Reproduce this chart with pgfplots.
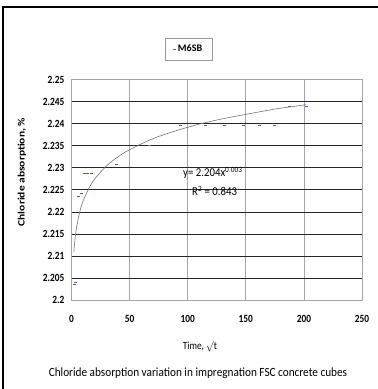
\documentclass[border=0pt]{standalone}
\usepackage{pgfplots}
\pgfplotsset{compat=1.18}
\usepackage{fontspec}
\setmainfont{Carlito}
\definecolor{mk}{RGB}{70,95,180}
\begin{document}
\begin{tikzpicture}[x=1pt,y=1pt]
\useasboundingbox (0,0) rectangle (378,389);
\draw[line width=1.3pt] (3,0) -- (3,382) -- (378,382);
\begin{axis}[
  at={(71.5pt,88.7pt)}, anchor=south west,
  scale only axis, width=290.5pt, height=220.8pt,
  xmin=0, xmax=250, ymin=2.2, ymax=2.25,
  xtick={0,50,100,150,200,250},
  ytick={2.2,2.205,2.21,2.215,2.22,2.225,2.23,2.235,2.24,2.245,2.25},
  yticklabels={2.2,2.205,2.21,2.215,2.22,2.225,2.23,2.235,2.24,2.245,2.25},
  xticklabels={0,50,100,150,200,250},
  major tick length=0pt,
  tick label style={font=\fontsize{11}{12}\selectfont\bfseries, xscale=0.85},
  /pgf/number format/assume math mode=true,
  yticklabel style={xshift=-5pt},
  xticklabel style={yshift=-11pt},
  axis line style={draw=gray!70, line width=0.8pt},
  xmajorgrids, ymajorgrids,
  x grid style={gray!70, line width=0.7pt},
  y grid style={black!85, line width=0.9pt},
  legend style={at={(0.403,1.138)}, anchor=center, draw=gray!80, line width=0.6pt,
    font=\fontsize{10}{11}\selectfont\bfseries, inner xsep=8pt, inner ysep=5pt},
  legend cell align=left,
  clip=false,
]
\addplot[only marks, mark=-, mark size=1.5pt, mark options={draw=mk, line width=0.6pt}] coordinates {
(3,2.2036) (3.4,2.2041) (5.9,2.2236) (8.8,2.2243) (11,2.2287) (14,2.2287) (17,2.2288)
(38.7,2.2309) (66.7,2.2352) (94,2.2397) (115,2.2397) (132,2.2397) (148,2.2397)
(162,2.2397) (175,2.2397) (187.5,2.2440) (202,2.2440)
};
\addlegendentry{M6SB}
\addplot[gray!90!black, line width=0.6pt, smooth, forget plot] coordinates {
(2,2.2109) (3,2.2138) (4,2.2159) (6,2.2188) (8,2.2209) (10,2.2225) (15,2.2254)
(20,2.2275) (30,2.2304) (40,2.2325) (50,2.2341) (70,2.2366) (90,2.2384)
(110,2.2399) (130,2.2411) (150,2.2421) (175,2.2433) (202,2.2443)
};
\end{axis}
\node[anchor=west, font=\fontsize{12}{13}\selectfont, xscale=0.9] at (180,216) {y= 2.204x$^{\mathrm{0.003}}$};
\node[anchor=west, font=\fontsize{12}{13}\selectfont, xscale=0.9] at (189,198) {R$^{\mathrm{2}}$ = 0.843};
\node[rotate=90, font=\fontsize{11.5}{12}\selectfont\bfseries, yscale=0.85] at (22,217) {Chloride absorption, \%};
\node[font=\fontsize{11}{12}\selectfont, xscale=0.85] at (200,42) {Time, $\surd$t};
\node[font=\fontsize{12.5}{13}\selectfont, xscale=0.9] at (198,16) {Chloride absorption variation in impregnation FSC concrete cubes};
\end{tikzpicture}
\end{document}
